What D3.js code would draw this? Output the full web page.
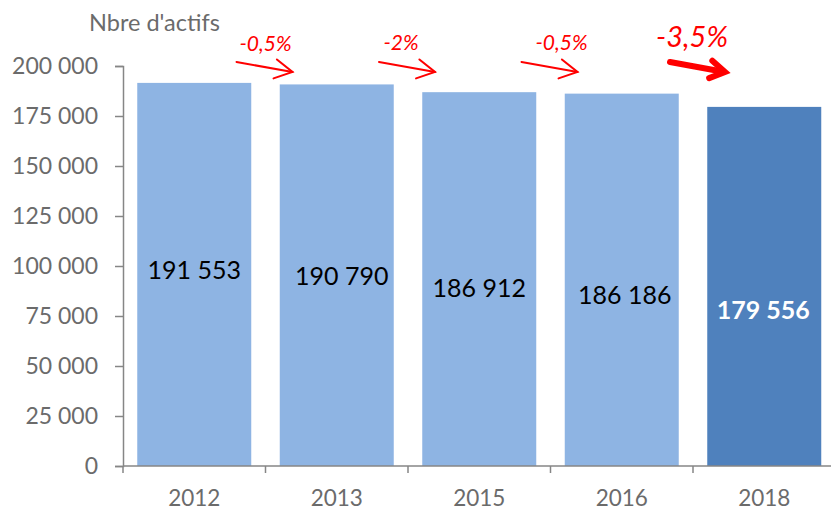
<!DOCTYPE html>
<html>
<head>
<meta charset="utf-8">
<script src="https://cdn.jsdelivr.net/npm/d3@7"></script>
<style>
  html, body { margin: 0; padding: 0; background: #fff; }
  svg { display: block; font-family: Lato, "Open Sans", sans-serif; }
</style>
</head>
<body>
<svg id="chart" width="831" height="511"></svg>
<script>
// ---- data ----
const years = ["2012", "2013", "2015", "2016", "2018"];
const actifs = [191553, 190790, 186912, 186186, 179556];
const valueLabels = ["191 553", "190 790", "186 912", "186 186", "179 556"];
const changeLabels = ["-0,5%", "-2%", "-0,5%", "-3,5%"];
const yTicks = [0, 25000, 50000, 75000, 100000, 125000, 150000, 175000, 200000];
const yTickLabels = ["0", "25 000", "50 000", "75 000", "100 000", "125 000", "150 000", "175 000", "200 000"];
const yTitle = "Nbre d'actifs";

// ---- layout (not data) ----
const mLeft = 123, mRight = 835.5, mTop = 66, mBottom = 466;
const labelCenterY = [270, 276, 288, 295, 310];   // manual label placement in the original
const labelDx = [0, 5, 0, 3, -1];
const changeDx = [0, -7, 11, -1];
const changeY = [43, 42, 42, 37];
const changeSize = [21, 21, 21, 29];
const arrowW = [2, 2, 2, 6];

const svg = d3.select("#chart");
const x = d3.scaleBand().domain(years).range([mLeft, mRight]).paddingInner(0.2).paddingOuter(0.1);
const y = d3.scaleLinear().domain([0, 200000]).range([mBottom, mTop]);
const axisColor = "#868686", textColor = "#6b6b6b";

// bars
svg.append("g").selectAll("rect").data(years).join("rect")
  .attr("x", d => x(d))
  .attr("width", x.bandwidth())
  .attr("y", (d, i) => y(actifs[i]))
  .attr("height", (d, i) => y(0) - y(actifs[i]))
  .attr("fill", (d, i) => i === years.length - 1 ? "#4F81BD" : "#8EB4E3");

// y axis
const yAxis = svg.append("g").attr("transform", `translate(${mLeft},0)`)
  .call(d3.axisLeft(y).tickValues(yTicks).tickFormat((d, i) => yTickLabels[i]).tickSize(8).tickPadding(17));
yAxis.select(".domain").attr("stroke", axisColor).attr("stroke-width", 1.5);
yAxis.selectAll(".tick line").attr("stroke", axisColor).attr("stroke-width", 1.5);
yAxis.selectAll(".tick text").attr("fill", textColor).style("font-size", "23px");
yAxis.attr("font-family", null).attr("font-size", null);

// x axis with boundary ticks
const step = x.step();
const xAxisG = svg.append("g").attr("transform", `translate(0,${mBottom})`);
xAxisG.append("line").attr("x1", mLeft).attr("x2", mRight).attr("stroke", axisColor).attr("stroke-width", 1.5);
const boundaries = d3.range(years.length + 1).map(i => mLeft + i * step);
xAxisG.selectAll("line.bt").data(boundaries).join("line").attr("class", "bt")
  .attr("x1", d => d).attr("x2", d => d).attr("y1", 0).attr("y2", 7)
  .attr("stroke", axisColor).attr("stroke-width", 1.5);
xAxisG.selectAll("text").data(years).join("text")
  .attr("x", d => x(d) + x.bandwidth() / 2)
  .attr("y", 40)
  .attr("text-anchor", "middle")
  .attr("fill", textColor)
  .style("font-size", "22.5px")
  .text(d => d);

// y title
svg.append("text").attr("x", 89).attr("y", 31).attr("fill", textColor)
  .style("font-size", "23.5px").text(yTitle);

// value labels
svg.append("g").selectAll("text").data(valueLabels).join("text")
  .attr("x", (d, i) => x(years[i]) + x.bandwidth() / 2 + labelDx[i])
  .attr("y", (d, i) => labelCenterY[i])
  .attr("dy", "0.36em")
  .attr("text-anchor", "middle")
  .attr("fill", (d, i) => i === years.length - 1 ? "#fff" : "#000")
  .style("font-weight", (d, i) => i === years.length - 1 ? "bold" : "normal")
  .style("font-size", "25px")
  .text(d => d);

// change annotations
const gaps = years.slice(1).map(d => x(d) - x.step() * x.paddingInner() / 2);
const ann = svg.append("g");
changeLabels.forEach((lab, i) => {
  const gx = gaps[i];
  ann.append("text").attr("x", gx + changeDx[i]).attr("y", changeY[i])
    .attr("dy", "0.36em").attr("text-anchor", "middle")
    .attr("fill", "#FF0000").style("font-style", "italic")
    .style("font-size", changeSize[i] + "px").text(lab);
  const x0 = gx - 29 + (i === 3 ? 6 : 0), y0 = 62, x1 = gx + 27 + (i === 3 ? 5 : 0), y1 = 72;
  const ang = Math.atan2(y1 - y0, x1 - x0);
  const hl = i === 3 ? 17 : 20, ha = i === 3 ? 0.55 : 0.5;
  ann.append("line").attr("x1", x0).attr("y1", y0)
    .attr("x2", x1 - (i === 3 ? 6 : 0) * Math.cos(ang)).attr("y2", y1 - (i === 3 ? 6 : 0) * Math.sin(ang))
    .attr("stroke", "#FF0000").attr("stroke-width", arrowW[i]).attr("stroke-linecap", "round");
  const p1 = [x1 - hl * Math.cos(ang - ha), y1 - hl * Math.sin(ang - ha)];
  const p2 = [x1 - hl * Math.cos(ang + ha), y1 - hl * Math.sin(ang + ha)];
  ann.append("path").attr("d", `M${p1[0]},${p1[1]}L${x1},${y1}L${p2[0]},${p2[1]}`)
    .attr("fill", "none").attr("stroke", "#FF0000").attr("stroke-width", arrowW[i])
    .attr("stroke-linecap", "round").attr("stroke-linejoin", "miter");
});
</script>
</body>
</html>
